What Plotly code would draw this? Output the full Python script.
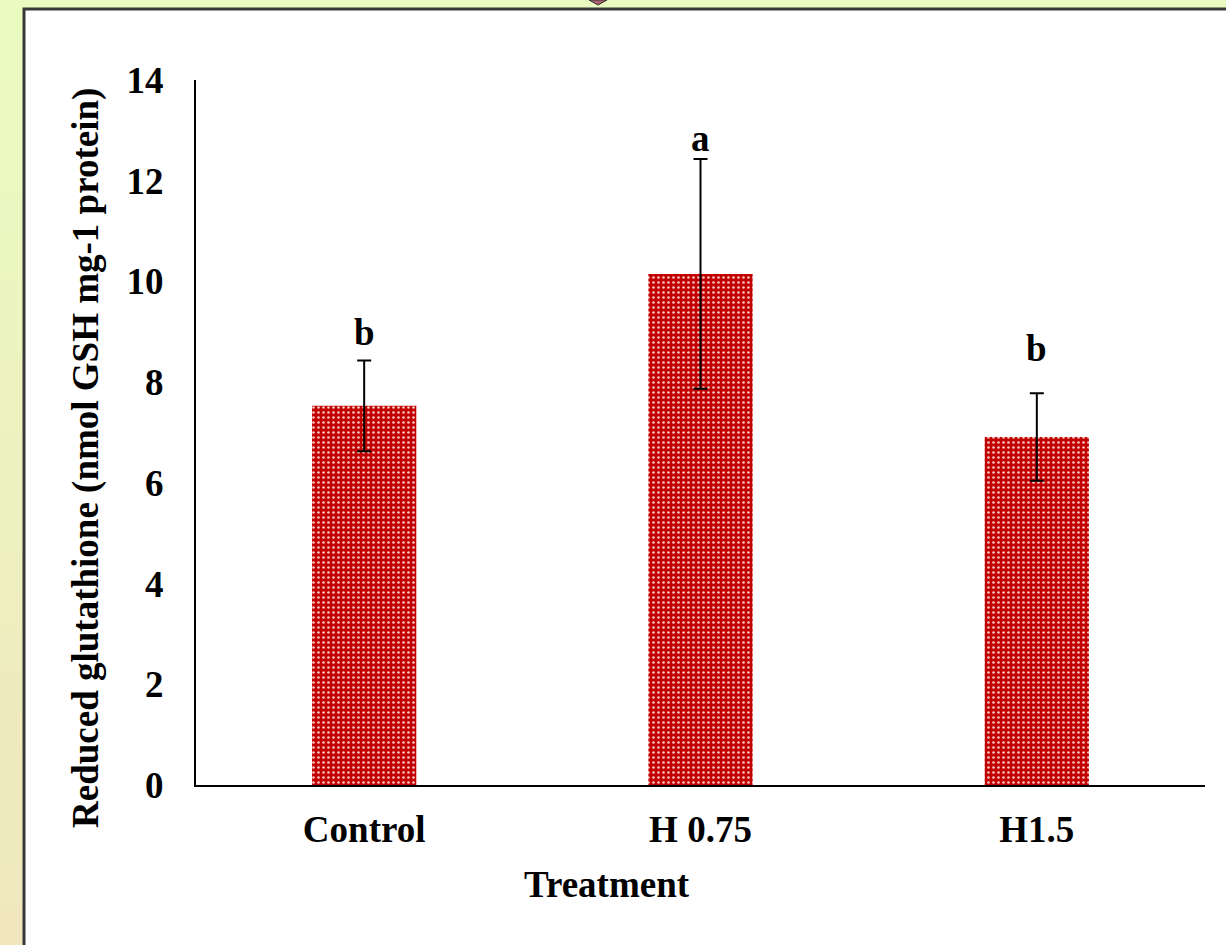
import plotly.graph_objects as go

categories = ["Control", "H 0.75", "H1.5"]
values = [7.53, 10.15, 6.91]
errors = [0.90, 2.28, 0.87]
letters = ["b", "a", "b"]
letter_y = [8.99, 12.84, 8.66]
y_ticks = [0, 2, 4, 6, 8, 10, 12, 14]

W, H = 1226, 945
L, R, T, B = 196, 1205, 80, 785

def px(x):
    return (x - L) / (R - L)

def py(y):
    return (B - y) / (B - T)

FONT = "Liberation Serif"
FS = 37

fig = go.Figure()
fig.add_trace(go.Bar(
    x=categories, y=values, width=0.31,
    marker=dict(color="#c20000", line=dict(width=0),
                pattern=dict(shape=".", fgcolor="#f7c4c4", bgcolor="#c20000",
                             size=5, solidity=0.22, fillmode="replace")),
    error_y=dict(type="data", array=errors, visible=True, color="black",
                 thickness=2, width=7),
    showlegend=False,
))

shapes = []
top_c = (234, 251, 192)
bot_c = (240, 231, 190)
n = 24
for i in range(n):
    t = i / (n - 1)
    c = tuple(int(round(top_c[k] + (bot_c[k] - top_c[k]) * t)) for k in range(3))
    y0 = i * H / n
    y1 = (i + 1) * H / n + 1
    shapes.append(dict(type="rect", xref="paper", yref="paper", layer="below",
                       x0=px(-5), x1=px(W + 5), y0=py(y1), y1=py(y0),
                       fillcolor="rgb(%d,%d,%d)" % c, line=dict(width=0)))
shapes.append(dict(type="rect", xref="paper", yref="paper", layer="below",
                   x0=px(24), x1=px(W + 10), y0=py(H + 10), y1=py(9),
                   fillcolor="white", line=dict(color="#383838", width=3)))
shapes.append(dict(type="path", xref="paper", yref="paper", layer="below",
                   path="M %f %f L %f %f L %f %f Z" % (px(589), py(0), px(607), py(0), px(598), py(5)),
                   fillcolor="#b06070", line=dict(color="#303030", width=1)))

annotations = []
for c, l, ly in zip(categories, letters, letter_y):
    annotations.append(dict(x=c, y=ly, xref="x", yref="y", text=l, showarrow=False,
                            font=dict(family=FONT, size=FS, color="black", weight="bold"),
                            xanchor="center", yanchor="middle"))
annotations.append(dict(x=px(607), y=py(884), xref="paper", yref="paper", text="Treatment",
                        showarrow=False, xanchor="center", yanchor="middle",
                        font=dict(family=FONT, size=FS, color="black", weight="bold")))
annotations.append(dict(x=px(86), y=py(458), xref="paper", yref="paper",
                        text="Reduced glutathione (nmol GSH mg-1 protein)",
                        textangle=-90, showarrow=False, xanchor="center", yanchor="middle",
                        font=dict(family=FONT, size=FS, color="black", weight="bold")))

fig.update_layout(
    width=W, height=H,
    margin=dict(l=L, r=W - R, t=T, b=H - B, pad=0),
    paper_bgcolor="rgb(236,242,190)",
    plot_bgcolor="rgba(0,0,0,0)",
    shapes=shapes,
    annotations=annotations,
    xaxis=dict(range=[-0.5, 2.5], showline=True, linecolor="black", linewidth=2,
               ticks="", showgrid=False, zeroline=False, ticklabelstandoff=11,
               tickfont=dict(family=FONT, size=FS, color="black", weight="bold")),
    yaxis=dict(range=[0, 14], tickvals=y_ticks, showline=True, linecolor="black",
               linewidth=2, ticks="", showgrid=False, zeroline=False,
               ticklabelstandoff=23,
               tickfont=dict(family=FONT, size=FS, color="black", weight="bold")),
)

fig.write_html("out.html", config={"displayModeBar": False},
               post_script="document.body.style.margin='0px';document.body.style.overflow='hidden';")
